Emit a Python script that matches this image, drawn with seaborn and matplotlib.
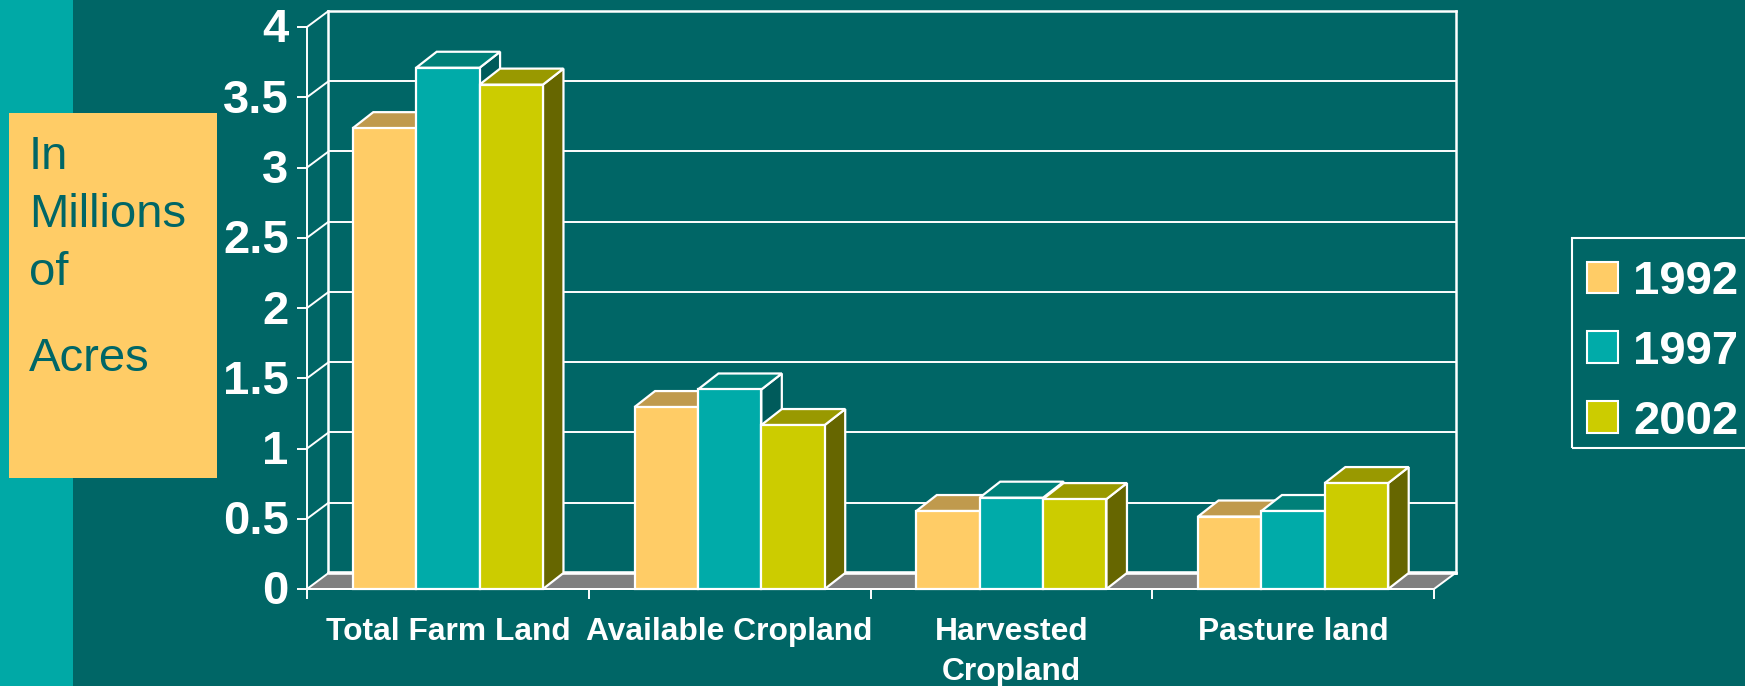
import matplotlib
matplotlib.use("Agg")
import matplotlib.pyplot as plt
from matplotlib.patches import Polygon, Rectangle
from matplotlib.transforms import ScaledTranslation
import pandas as pd
import seaborn as sns

categories = ["Total Farm Land", "Available Cropland", "Harvested\nCropland", "Pasture land"]
years = ["1992", "1997", "2002"]
v1992 = [3.28, 1.295, 0.555, 0.516]
v1997 = [3.71, 1.42, 0.65, 0.555]
v2002 = [3.59, 1.167, 0.64, 0.754]
y_ticks = [0, 0.5, 1, 1.5, 2, 2.5, 3, 3.5, 4]
y_labels = ["0", "0.5", "1", "1.5", "2", "2.5", "3", "3.5", "4"]
unit_lines = ["In", "Millions", "of", "Acres"]

front = ["#FFCC66", "#00ABA9", "#CCCC00"]
tops = ["#C09A4D", "#008079", "#999900"]
sides = ["#996F33", "#005B5B", "#666600"]
BG, STRIP, FLOOR = "#006666", "#00A9A6", "#808080"

W, H = 1745, 686
FONT = "Liberation Sans"
sns.set_theme(style="white")
plt.rcParams["font.family"] = [FONT, "DejaVu Sans"]
fig = plt.figure(figsize=(W / 100, H / 100), dpi=100, facecolor=BG)


def box(x0, y0, x1, y1):
    return [x0 / W, 1 - y1 / H, (x1 - x0) / W, (y1 - y0) / H]


# decorative slide panels
for (x0, y0, x1, y1, c) in [(0, 0, 73, H, STRIP), (9, 113, 217, 478, "#FFCC66")]:
    fig.add_artist(Rectangle((x0 / W, 1 - y1 / H), (x1 - x0) / W, (y1 - y0) / H,
                             transform=fig.transFigure, fc=c, ec="none", zorder=0))
for line, base in zip(unit_lines, [169, 227, 285, 371]):
    fig.text(29 / W, 1 - base / H, line, color=BG, fontsize=34, va="baseline", ha="left", zorder=2)

# back wall
back = fig.add_axes(box(328, 10.7, 1456, 573), zorder=1)
back.patch.set_visible(False)
back.set_ylim(0, 4)
back.set_xlim(0, 1)
back.set_yticks(y_ticks)
back.set_xticks([])
back.tick_params(left=False, labelleft=False)
back.grid(axis="y", color="white", lw=1.4)
for s in back.spines.values():
    s.set_color("white")
    s.set_linewidth(1.8)

# front plane with the bars
ax = fig.add_axes(box(307, 27, 1434, 589), zorder=2)
ax.patch.set_visible(False)
df = pd.DataFrame({
    "category": categories * 3,
    "year": [y for y in years for _ in categories],
    "value": v1992 + v1997 + v2002,
})
sns.barplot(data=df, x="category", y="value", hue="year", order=categories, hue_order=years,
            palette=front, saturation=1, width=0.675, gap=0, edgecolor="white", linewidth=1.6, ax=ax)
handles, labels = ax.get_legend_handles_labels()
ax.get_legend().remove()
ax.set_xlim(-0.5, len(categories) - 0.5)
ax.set_ylim(0, 4)
ax.set_xlabel("")
ax.set_ylabel("")
sns.despine(ax=ax)
for name in ["left", "bottom"]:
    ax.spines[name].set_color("white")
    ax.spines[name].set_linewidth(1.4)
    ax.spines[name].set_zorder(40)

cat_w = (1434 - 307) / len(categories)
val_h = (589 - 27) / 4
wall_dx, wall_dy = 21.5 / cat_w, 16 / val_h
bar_dx, bar_dy = 20.5 / cat_w, 16 / val_h

# floor and wall connectors
xl, xr = ax.get_xlim()
ax.add_patch(Polygon([(xl, 0), (xl + wall_dx, wall_dy), (xr + wall_dx, wall_dy), (xr, 0)],
                     closed=True, fc=FLOOR, ec="white", lw=1.4, clip_on=False, zorder=0.5))
ax.plot([xl + wall_dx, xr + wall_dx], [wall_dy, wall_dy], color="white", lw=2.6, clip_on=False, zorder=0.6)
for t in y_ticks[1:]:
    ax.plot([xl, xl + wall_dx], [t, t + wall_dy], color="white", lw=1.4, clip_on=False, zorder=0.6)

# 3D faces of each bar, derived from the drawn bars
for j, cont in enumerate(ax.containers):
    for p in cont:
        x0, w, h = p.get_x(), p.get_width(), p.get_height()
        side = Polygon([(x0 + w, 0), (x0 + w + bar_dx, bar_dy), (x0 + w + bar_dx, h + bar_dy), (x0 + w, h)],
                       closed=True, fc=sides[j], ec="white", lw=1.6, clip_on=False)
        top = Polygon([(x0, h), (x0 + bar_dx, h + bar_dy), (x0 + w + bar_dx, h + bar_dy), (x0 + w, h)],
                      closed=True, fc=tops[j], ec="white", lw=1.6, clip_on=False)
        order = 2 + 2 * x0
        side.set_zorder(order)
        top.set_zorder(order)
        p.set_zorder(order + 0.01)
        p.set_clip_on(False)
        ax.add_patch(side)
        ax.add_patch(top)

# ticks
ax.set_xticks([i - 0.5 for i in range(len(categories) + 1)])
ax.set_xticklabels([])
ax.set_xticks(range(len(categories)), labels=categories, minor=True)
ax.set_yticks(y_ticks, labels=y_labels)
ax.tick_params(axis="x", which="major", length=7.2, width=1.4, color="white", bottom=True)
ax.tick_params(axis="x", which="minor", length=0, pad=20, labelsize=22.9, labelcolor="white")
ax.tick_params(axis="y", length=7.2, width=1.4, color="white", left=True, pad=6, labelsize=34, labelcolor="white")
for t in ax.get_yticklabels() + ax.get_xticklabels(minor=True):
    t.set_fontweight("bold")
    t.set_linespacing(1.45)
nudge = ScaledTranslation(0, 1.5 / 100, fig.dpi_scale_trans)
for t in ax.get_yticklabels():
    t.set_transform(t.get_transform() + nudge)

# legend: frame runs off the right edge of the slide
fig.add_artist(Rectangle((1572 / W, 1 - 448 / H), (W + 10 - 1572) / W, 210 / H, transform=fig.transFigure,
                         fc="none", ec="white", lw=1.5, zorder=3))
leg = fig.legend(handles, labels, loc="upper left", bbox_to_anchor=(1587 / W, 1 - 260 / H),
                 bbox_transform=fig.transFigure, fontsize=34, frameon=False,
                 handlelength=0.66, handleheight=0.66, handletextpad=0.32,
                 labelspacing=0.547, borderpad=0, borderaxespad=0)
for t in leg.get_texts():
    t.set_color("white")
    t.set_fontweight("bold")
for h in leg.legend_handles:
    h.set_edgecolor("white")
    h.set_linewidth(1.5)

fig.savefig("out.png", dpi=100, facecolor=fig.get_facecolor())
